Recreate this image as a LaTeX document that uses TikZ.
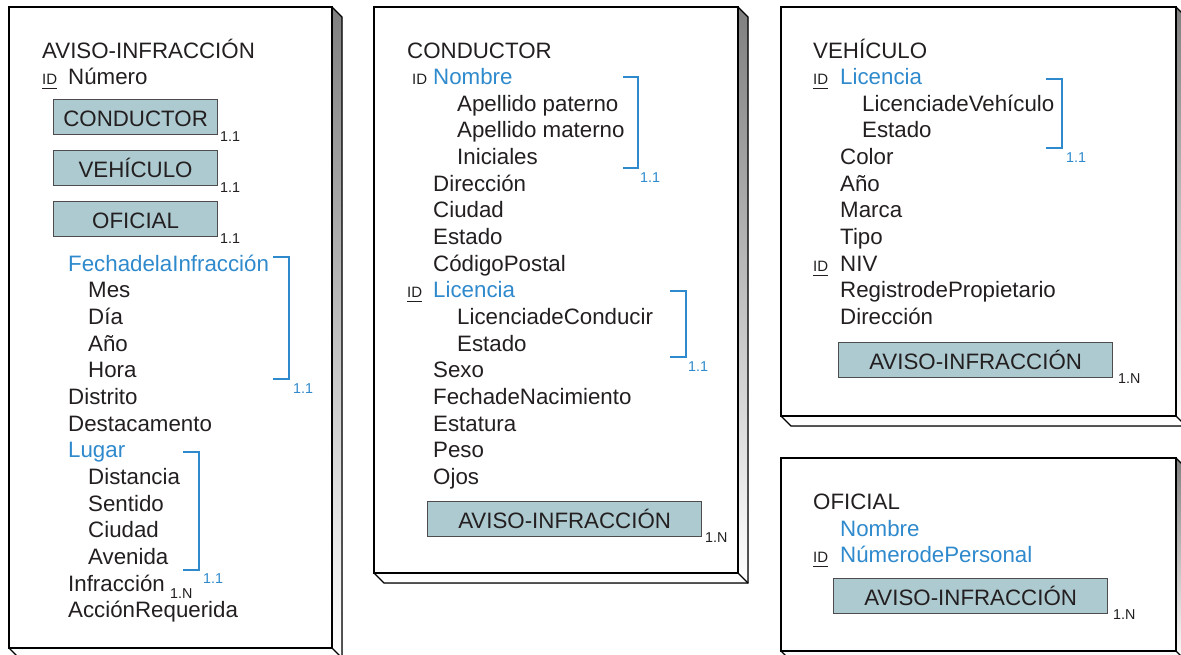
\documentclass[tikz,border=0pt]{standalone}
\usepackage{fontspec}
\setmainfont{Liberation Sans}
\definecolor{txt}{HTML}{231F20}
\definecolor{blu}{HTML}{2F8ACD}
\definecolor{boxfill}{HTML}{ADCAD0}
\definecolor{shade}{HTML}{A7A9AC}
\newcommand\mypanel[4]{%
  \fill[shade,draw=black,line width=1.2] (#3,#2) -- (#3+10,#2+10) -- (#3+10,#4+10) -- (#1+10,#4+10) -- (#1,#4) -- cycle;
  \draw[black,line width=1.2] (#3,#4) -- (#3+10,#4+10);
  \draw[black,line width=1.4,fill=white] (#1,#2) rectangle (#3,#4);
}
\newcommand\rw[1]{58+26.65*#1}
\begin{document}
\begin{tikzpicture}[x=1pt,y=-1pt,
  attr/.style={anchor=base west,inner sep=0,font=\fontsize{22.3}{26}\selectfont,text=txt},
  battr/.style={attr,text=blu},
  idtag/.style={anchor=base west,inner sep=0,font=\fontsize{15}{17}\selectfont,text=txt},
  card/.style={anchor=base west,inner sep=0,font=\fontsize{14.3}{16}\selectfont,text=txt},
  bcard/.style={card,text=blu},
  ent/.style={draw=txt!80,fill=boxfill,line width=1.2,anchor=north west,inner sep=0,
    minimum height=35,text height=19,text depth=0,font=\fontsize{22.3}{26}\selectfont,text=txt},
  brk/.style={blu,line width=1.5},
  uline/.style={txt,line width=1}]
\useasboundingbox (0,0) rectangle (1181,654);
% panels
\mypanel{9}{7}{332}{648}
\mypanel{374}{7}{738}{573}
\mypanel{781}{7}{1176}{416}
\mypanel{781}{458}{1176}{651}

% ---------- Panel 1: AVISO-INFRACCION
\node[attr] (p1t) at (42,{\rw{0}}) {AVISO-INFRACCIÓN};
\node[idtag] (p1id) at (42,{\rw{1}}) {ID};
\draw[uline] ([yshift=-4pt]p1id.base west) -- ([yshift=-4pt]p1id.base east);
\node[attr] (p1num) at (68,{\rw{1}}) {Número};
\node[ent,minimum width=164] (p1b1) at (53,99) {CONDUCTOR};
\node[card] (p1c1) at (220,141) {1.1};
\node[ent,minimum width=164] (p1b2) at (53,150) {VEHÍCULO};
\node[card] (p1c2) at (220,192) {1.1};
\node[ent,minimum width=164] (p1b3) at (53,201) {OFICIAL};
\node[card] (p1c3) at (220,243) {1.1};
\node[battr] (p1f) at (68,{\rw{8}}) {FechadelaInfracción};
\node[attr] (p1mes) at (88,{\rw{9}}) {Mes};
\node[attr] (p1dia) at (88,{\rw{10}}) {Día};
\node[attr] (p1ano) at (88,{\rw{11}}) {Año};
\node[attr] (p1hora) at (88,{\rw{12}}) {Hora};
\node[attr] (p1dis) at (68,{\rw{13}}) {Distrito};
\node[attr] (p1des) at (68,{\rw{14}}) {Destacamento};
\node[battr] (p1lug) at (68,{\rw{15}}) {Lugar};
\node[attr] (p1dst) at (88,{\rw{16}}) {Distancia};
\node[attr] (p1sen) at (88,{\rw{17}}) {Sentido};
\node[attr] (p1ciu) at (88,{\rw{18}}) {Ciudad};
\node[attr] (p1ave) at (88,{\rw{19}}) {Avenida};
\node[attr] (p1inf) at (68,{\rw{20}}) {Infracción};
\node[card] (p1cinf) at (170,598) {1.N};
\node[attr] (p1acc) at (68,{\rw{21}}) {AcciónRequerida};
\draw[brk] (273,257) -- (289,257) -- (289,379) -- (273,379);
\node[bcard] (p1cf) at (293,393) {1.1};
\draw[brk] (183,452) -- (199,452) -- (199,570) -- (183,570);
\node[bcard] (p1cl) at (203,583) {1.1};

% ---------- Panel 2: CONDUCTOR
\node[attr] (p2t) at (407,{\rw{0}}) {CONDUCTOR};
\node[idtag] (p2id1) at (412,{\rw{1}}) {ID};
\node[battr] (p2nom) at (433,{\rw{1}}) {Nombre};
\node[attr] (p2ap) at (457,{\rw{2}}) {Apellido paterno};
\node[attr] (p2am) at (457,{\rw{3}}) {Apellido materno};
\node[attr] (p2ini) at (457,{\rw{4}}) {Iniciales};
\node[attr] (p2dir) at (433,{\rw{5}}) {Dirección};
\node[attr] (p2ciu) at (433,{\rw{6}}) {Ciudad};
\node[attr] (p2est) at (433,{\rw{7}}) {Estado};
\node[attr] (p2cp) at (433,{\rw{8}}) {CódigoPostal};
\node[idtag] (p2id2) at (407,{\rw{9}}) {ID};
\draw[uline] ([yshift=-4pt]p2id2.base west) -- ([yshift=-4pt]p2id2.base east);
\node[battr] (p2lic) at (433,{\rw{9}}) {Licencia};
\node[attr] (p2lc) at (457,{\rw{10}}) {LicenciadeConducir};
\node[attr] (p2le) at (457,{\rw{11}}) {Estado};
\node[attr] (p2sex) at (433,{\rw{12}}) {Sexo};
\node[attr] (p2fn) at (433,{\rw{13}}) {FechadeNacimiento};
\node[attr] (p2eta) at (433,{\rw{14}}) {Estatura};
\node[attr] (p2pes) at (433,{\rw{15}}) {Peso};
\node[attr] (p2ojo) at (433,{\rw{16}}) {Ojos};
\node[ent,minimum width=274] (p2b) at (427,501) {AVISO-INFRACCIÓN};
\node[card] (p2cb) at (705,542) {1.N};
\draw[brk] (623,77) -- (638,77) -- (638,168) -- (623,168);
\node[bcard] (p2cn) at (640,182) {1.1};
\draw[brk] (670,291) -- (686,291) -- (686,357) -- (670,357);
\node[bcard] (p2cl) at (688,371) {1.1};

% ---------- Panel 3: VEHICULO
\node[attr] (p3t) at (813,{\rw{0}}) {VEHÍCULO};
\node[idtag] (p3id1) at (813,{\rw{1}}) {ID};
\draw[uline] ([yshift=-4pt]p3id1.base west) -- ([yshift=-4pt]p3id1.base east);
\node[battr] (p3lic) at (840,{\rw{1}}) {Licencia};
\node[attr] (p3lv) at (862,{\rw{2}}) {LicenciadeVehículo};
\node[attr] (p3le) at (862,{\rw{3}}) {Estado};
\node[attr] (p3col) at (840,{\rw{4}}) {Color};
\node[attr] (p3ano) at (840,{\rw{5}}) {Año};
\node[attr] (p3mar) at (840,{\rw{6}}) {Marca};
\node[attr] (p3tip) at (840,{\rw{7}}) {Tipo};
\node[idtag] (p3id2) at (813,{\rw{8}}) {ID};
\draw[uline] ([yshift=-4pt]p3id2.base west) -- ([yshift=-4pt]p3id2.base east);
\node[attr] (p3niv) at (840,{\rw{8}}) {NIV};
\node[attr] (p3reg) at (840,{\rw{9}}) {RegistrodePropietario};
\node[attr] (p3dir) at (840,{\rw{10}}) {Dirección};
\node[ent,minimum width=274] (p3b) at (838,342) {AVISO-INFRACCIÓN};
\node[card] (p3cb) at (1118,383) {1.N};
\draw[brk] (1046,79) -- (1062,79) -- (1062,148) -- (1046,148);
\node[bcard] (p3cl) at (1066,162) {1.1};

% ---------- Panel 4: OFICIAL
\node[attr] (p4t) at (813,509) {OFICIAL};
\node[battr] (p4nom) at (840,536) {Nombre};
\node[idtag] (p4id) at (813,562) {ID};
\draw[uline] ([yshift=-4pt]p4id.base west) -- ([yshift=-4pt]p4id.base east);
\node[battr] (p4num) at (840,562) {NúmerodePersonal};
\node[ent,minimum width=274] (p4b) at (833,578) {AVISO-INFRACCIÓN};
\node[card] (p4cb) at (1113,619) {1.N};
\end{tikzpicture}
\end{document}
